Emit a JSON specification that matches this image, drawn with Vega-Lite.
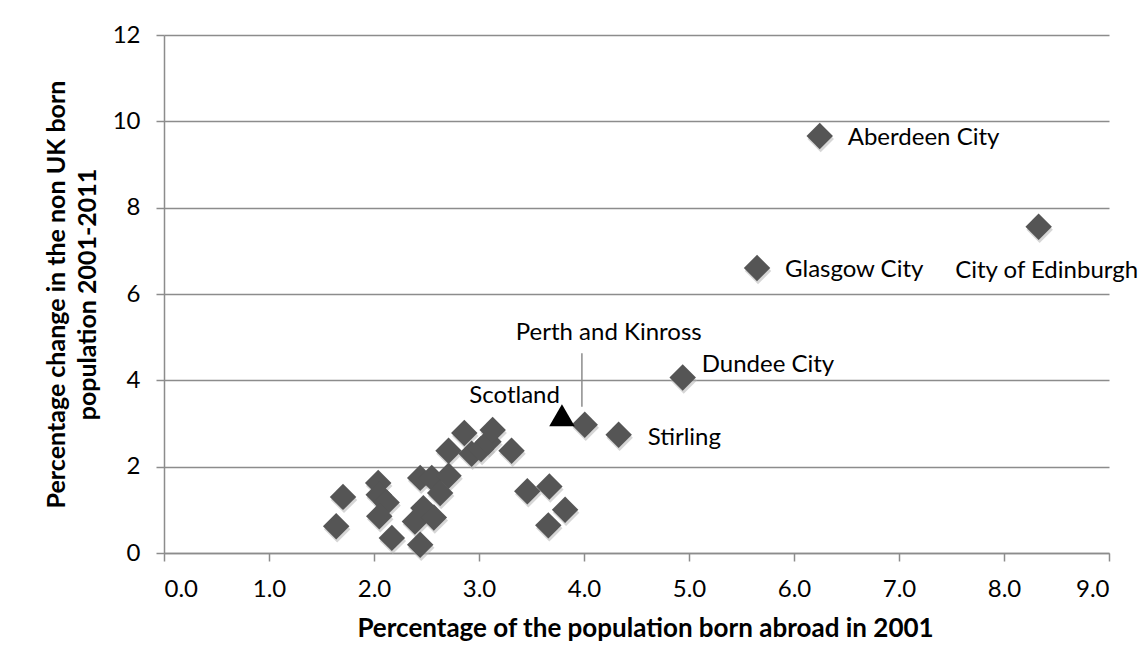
{
  "$schema": "https://vega.github.io/schema/vega-lite/v6.json",
  "width": 945,
  "height": 518,
  "autosize": {"type": "none"},
  "padding": {"left": 164, "top": 35, "right": 37, "bottom": 119},
  "background": "white",
  "config": {
    "view": {"stroke": null},
    "font": "Lato",
    "axis": {
      "labelFont": "Lato",
      "titleFont": "Lato",
      "labelFontSize": 24,
      "titleFontSize": 26,
      "labelColor": "#000000",
      "titleColor": "#000000",
      "titleFontWeight": "bold",
      "domainColor": "#8c8c8c",
      "domainWidth": 1.5,
      "tickColor": "#8c8c8c",
      "tickWidth": 1.5,
      "tickSize": 8,
      "gridColor": "#8c8c8c",
      "gridWidth": 1.5
    }
  },
  "datasets": {
    "areas": [
      {"name": "", "pct2001": 1.705, "change": 1.30},
      {"name": "", "pct2001": 1.64, "change": 0.62},
      {"name": "", "pct2001": 2.04, "change": 1.62},
      {"name": "", "pct2001": 2.045, "change": 1.35},
      {"name": "", "pct2001": 2.12, "change": 1.17},
      {"name": "", "pct2001": 2.05, "change": 0.85},
      {"name": "", "pct2001": 2.17, "change": 0.35},
      {"name": "", "pct2001": 2.44, "change": 1.74},
      {"name": "", "pct2001": 2.55, "change": 1.74},
      {"name": "", "pct2001": 2.71, "change": 1.79},
      {"name": "", "pct2001": 2.63, "change": 1.39},
      {"name": "", "pct2001": 2.47, "change": 1.04},
      {"name": "", "pct2001": 2.39, "change": 0.73},
      {"name": "", "pct2001": 2.57, "change": 0.82},
      {"name": "", "pct2001": 2.44, "change": 0.19},
      {"name": "", "pct2001": 2.71, "change": 2.37},
      {"name": "", "pct2001": 2.86, "change": 2.78},
      {"name": "", "pct2001": 2.93, "change": 2.30},
      {"name": "", "pct2001": 3.02, "change": 2.41},
      {"name": "", "pct2001": 3.09, "change": 2.58},
      {"name": "", "pct2001": 3.13, "change": 2.85},
      {"name": "", "pct2001": 3.31, "change": 2.37},
      {"name": "", "pct2001": 3.46, "change": 1.43},
      {"name": "", "pct2001": 3.67, "change": 1.54},
      {"name": "", "pct2001": 3.82, "change": 1.00},
      {"name": "", "pct2001": 3.66, "change": 0.64},
      {"name": "Perth and Kinross", "pct2001": 4.007, "change": 2.97},
      {"name": "Stirling", "pct2001": 4.33, "change": 2.74},
      {"name": "Dundee City", "pct2001": 4.94, "change": 4.065},
      {"name": "Glasgow City", "pct2001": 5.648, "change": 6.60},
      {"name": "Aberdeen City", "pct2001": 6.245, "change": 9.66},
      {"name": "City of Edinburgh", "pct2001": 8.33, "change": 7.56}
    ],
    "scotland": [
      {"name": "Scotland", "pct2001": 3.79, "change": 3.19}
    ],
    "leader": [
      {"pct2001": 3.98, "from": 3.39, "to": 4.63}
    ]
  },
  "layer": [
    {
      "data": {"name": "areas"},
      "mark": {"type": "point", "shape": "diamond", "filled": true, "size": 700, "color": "#b5b5b5", "opacity": 0.55, "xOffset": 1, "yOffset": 3},
      "encoding": {
        "x": {"field": "pct2001", "type": "quantitative", "scale": {"domain": [0, 9], "nice": false, "zero": false},
          "axis": {"title": "Percentage of the population born abroad in 2001", "values": [0,1,2,3,4,5,6,7,8,9], "format": ".1f", "grid": false, "labelPadding": 16, "titlePadding": 14, "titleX": 481}},
        "y": {"field": "change", "type": "quantitative", "scale": {"domain": [0, 12], "nice": false},
          "axis": {"title": ["Percentage change in the non UK born", "population 2001-2011"], "values": [0,2,4,6,8,10,12], "format": "d", "grid": true, "labelPadding": 16, "titlePadding": 12, "titleFontSize": 25, "titleLineHeight": 31}}
      }
    },
    {
      "data": {"name": "areas"},
      "mark": {"type": "point", "shape": "diamond", "filled": true, "size": 700, "color": "#555555", "opacity": 1},
      "encoding": {
        "x": {"field": "pct2001", "type": "quantitative"},
        "y": {"field": "change", "type": "quantitative"}
      }
    },
    {
      "data": {"name": "scotland"},
      "mark": {"type": "point", "shape": "triangle-up", "filled": true, "size": 650, "color": "#000000", "opacity": 1},
      "encoding": {
        "x": {"field": "pct2001", "type": "quantitative"},
        "y": {"field": "change", "type": "quantitative"}
      }
    },
    {
      "data": {"name": "leader"},
      "mark": {"type": "rule", "color": "#8c8c8c", "strokeWidth": 1.5},
      "encoding": {
        "x": {"field": "pct2001", "type": "quantitative"},
        "y": {"field": "from", "type": "quantitative"},
        "y2": {"field": "to"}
      }
    },
    {
      "data": {"name": "scotland"},
      "mark": {"type": "text", "align": "right", "baseline": "alphabetic", "dx": -2, "dy": -12, "fontSize": 24, "font": "Lato", "color": "#000000"},
      "encoding": {
        "x": {"field": "pct2001", "type": "quantitative"},
        "y": {"field": "change", "type": "quantitative"},
        "text": {"field": "name"}
      }
    },
    {
      "data": {"name": "areas"},
      "transform": [{"filter": "datum.name === 'Aberdeen City' || datum.name === 'Glasgow City'"}],
      "mark": {"type": "text", "align": "left", "baseline": "alphabetic", "dx": 28, "dy": 9, "fontSize": 24, "font": "Lato", "color": "#000000"},
      "encoding": {
        "x": {"field": "pct2001", "type": "quantitative"},
        "y": {"field": "change", "type": "quantitative"},
        "text": {"field": "name"}
      }
    },
    {
      "data": {"name": "areas"},
      "transform": [{"filter": "datum.name === 'Stirling'"}],
      "mark": {"type": "text", "align": "left", "baseline": "alphabetic", "dx": 29, "dy": 10, "fontSize": 24, "font": "Lato", "color": "#000000"},
      "encoding": {
        "x": {"field": "pct2001", "type": "quantitative"},
        "y": {"field": "change", "type": "quantitative"},
        "text": {"field": "name"}
      }
    },
    {
      "data": {"name": "areas"},
      "transform": [{"filter": "datum.name === 'Dundee City'"}],
      "mark": {"type": "text", "align": "left", "baseline": "alphabetic", "dx": 19, "dy": -6, "fontSize": 24, "font": "Lato", "color": "#000000"},
      "encoding": {
        "x": {"field": "pct2001", "type": "quantitative"},
        "y": {"field": "change", "type": "quantitative"},
        "text": {"field": "name"}
      }
    },
    {
      "data": {"name": "areas"},
      "transform": [{"filter": "datum.name === 'City of Edinburgh'"}],
      "mark": {"type": "text", "align": "center", "baseline": "alphabetic", "dx": 8, "dy": 51, "fontSize": 24, "font": "Lato", "color": "#000000"},
      "encoding": {
        "x": {"field": "pct2001", "type": "quantitative"},
        "y": {"field": "change", "type": "quantitative"},
        "text": {"field": "name"}
      }
    },
    {
      "data": {"name": "areas"},
      "transform": [{"filter": "datum.name === 'Perth and Kinross'"}],
      "mark": {"type": "text", "align": "center", "baseline": "alphabetic", "dx": 24, "dy": -85, "fontSize": 24, "font": "Lato", "color": "#000000"},
      "encoding": {
        "x": {"field": "pct2001", "type": "quantitative"},
        "y": {"field": "change", "type": "quantitative"},
        "text": {"field": "name"}
      }
    }
  ]
}
